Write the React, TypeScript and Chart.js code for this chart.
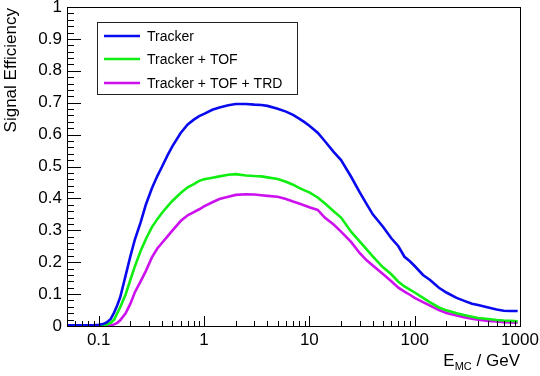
import React, { useEffect, useRef } from "react";
import { Chart, registerables } from "chart.js";

Chart.register(...registerables);

const energies = [
  0.05, 0.07, 0.09, 0.1, 0.11, 0.12, 0.13, 0.14, 0.15, 0.16,
  0.18, 0.2, 0.22, 0.25, 0.28, 0.32, 0.36, 0.4, 0.45, 0.5,
  0.6, 0.7, 0.8, 0.9, 1.0, 1.2, 1.4, 1.7, 2.0, 2.5,
  3.0, 3.5, 4, 5, 6, 7, 8, 9, 10, 12,
  14, 17, 20, 25, 30, 35, 40, 50, 60, 70,
  80, 90, 100, 120, 140, 170, 200, 250, 300, 350,
  400, 500, 600, 700, 800, 950,
];

const tracker = [
  0.002, 0.002, 0.003, 0.004, 0.006, 0.012, 0.022, 0.042, 0.065, 0.09,
  0.158, 0.219, 0.27, 0.325, 0.38, 0.432, 0.47, 0.5, 0.535, 0.563,
  0.605, 0.632, 0.647, 0.658, 0.665, 0.678, 0.685, 0.692, 0.696, 0.696,
  0.694, 0.693, 0.69, 0.681, 0.672, 0.662, 0.65, 0.639, 0.628, 0.606,
  0.58, 0.546, 0.52, 0.467, 0.42, 0.382, 0.35, 0.311, 0.275, 0.25,
  0.217, 0.203, 0.188, 0.16, 0.144, 0.12, 0.105, 0.088, 0.078, 0.07,
  0.066, 0.058, 0.052, 0.048, 0.047, 0.047,
];

const trackerTof = [
  0.001, 0.001, 0.002, 0.002, 0.003, 0.005, 0.01, 0.02, 0.04, 0.059,
  0.099, 0.145, 0.186, 0.235, 0.272, 0.31, 0.335, 0.355, 0.375, 0.392,
  0.417, 0.435, 0.445, 0.455, 0.46, 0.465, 0.469, 0.474, 0.476, 0.472,
  0.47, 0.469, 0.466, 0.461, 0.452, 0.443, 0.433, 0.425, 0.419, 0.403,
  0.385, 0.36, 0.34, 0.295, 0.265, 0.24, 0.218, 0.184, 0.162, 0.139,
  0.124, 0.114, 0.105, 0.088, 0.074, 0.058, 0.049, 0.04, 0.034, 0.029,
  0.025, 0.022, 0.019, 0.017, 0.016, 0.015,
];

const trackerTofTrd = [
  0, 0, 0, 0.001, 0.001, 0.001, 0.002, 0.005, 0.01, 0.018,
  0.04, 0.07, 0.105, 0.14, 0.172, 0.215, 0.243, 0.261, 0.281, 0.299,
  0.329, 0.347, 0.357, 0.366, 0.375, 0.388, 0.398, 0.405, 0.411, 0.413,
  0.412, 0.41, 0.408, 0.405, 0.398, 0.39, 0.384, 0.378, 0.372, 0.364,
  0.34, 0.318, 0.296, 0.263, 0.229, 0.206, 0.19, 0.163, 0.14, 0.12,
  0.108, 0.098, 0.088, 0.075, 0.064, 0.05, 0.041, 0.033, 0.027, 0.023,
  0.02, 0.016, 0.014, 0.012, 0.011, 0.01,
];

const seriesLabels = ["Tracker", "Tracker + TOF", "Tracker + TOF + TRD"];
const seriesColors = ["#0a0aee", "#11ee11", "#cc11ee"];
const xTickValues = [0.1, 1, 10, 100, 1000];
const yTickValues = [0, 0.1, 0.2, 0.3, 0.4, 0.5, 0.6, 0.7, 0.8, 0.9, 1];
const yTitle = "Signal Efficiency";
const xTitleMain = "E";
const xTitleSub = "MC";
const xTitleRest = " / GeV";

const FONT = "'Liberation Sans', Arial, Helvetica, sans-serif";

const rootStylePlugin = {
  id: "rootStyle",
  afterDraw(chart: any) {
    const ctx = chart.ctx;
    const { left, right, top, bottom } = chart.chartArea;
    const xs = chart.scales.x;
    const ys = chart.scales.y;
    ctx.save();
    ctx.strokeStyle = "#000";
    ctx.lineWidth = 1;
    // frame
    ctx.strokeRect(Math.round(left) + 0.5, Math.round(top) + 0.5, Math.round(right - left), Math.round(bottom - top));
    // y ticks
    ctx.beginPath();
    for (let i = 0; i <= 50; i++) {
      const v = i / 50;
      const py = Math.round(ys.getPixelForValue(v)) + 0.5;
      const len = i % 5 === 0 ? 14 : 7;
      ctx.moveTo(left, py);
      ctx.lineTo(left + len, py);
    }
    // x ticks
    for (let d = 0.01; d <= 1000; d *= 10) {
      for (let k = 1; k <= 9; k++) {
        const v = k * d;
        if (v < xs.min * 1.001 || v > xs.max * 0.999) continue;
        const px = Math.round(xs.getPixelForValue(v)) + 0.5;
        const len = k === 1 ? 10 : 5;
        ctx.moveTo(px, bottom);
        ctx.lineTo(px, bottom - len);
      }
    }
    ctx.stroke();

    // x title
    ctx.fillStyle = "#000";
    ctx.textBaseline = "alphabetic";
    ctx.font = `17px ${FONT}`;
    const wRest = ctx.measureText(xTitleRest).width;
    const wMain = ctx.measureText(xTitleMain).width;
    ctx.font = `11px ${FONT}`;
    const wSub = ctx.measureText(xTitleSub).width;
    const xEnd = 520;
    const base = 366;
    let x0 = xEnd - wRest - wSub - wMain;
    ctx.font = `17px ${FONT}`;
    ctx.textAlign = "left";
    ctx.fillText(xTitleMain, x0, base);
    ctx.font = `11px ${FONT}`;
    ctx.fillText(xTitleSub, x0 + wMain, base + 4);
    ctx.font = `17px ${FONT}`;
    ctx.fillText(xTitleRest, x0 + wMain + wSub, base);

    // y title
    ctx.save();
    ctx.translate(16, 8);
    ctx.rotate(-Math.PI / 2);
    ctx.textAlign = "right";
    ctx.textBaseline = "alphabetic";
    ctx.font = `17px ${FONT}`;
    ctx.fillText(yTitle, 0, 0);
    ctx.restore();

    // legend
    const bx = 97.5, by = 22.5, bw = 200, bh = 72;
    ctx.fillStyle = "#fff";
    ctx.fillRect(bx, by, bw, bh);
    ctx.strokeStyle = "#222";
    ctx.lineWidth = 1;
    ctx.strokeRect(bx, by, bw, bh);
    const rows = [36, 59, 83];
    chart.data.datasets.forEach((ds: any, i: number) => {
      ctx.strokeStyle = ds.borderColor;
      ctx.lineWidth = 2.5;
      ctx.beginPath();
      ctx.moveTo(104, rows[i]);
      ctx.lineTo(140, rows[i]);
      ctx.stroke();
      ctx.fillStyle = "#000";
      ctx.font = `14px ${FONT}`;
      ctx.textAlign = "left";
      ctx.textBaseline = "middle";
      ctx.fillText(ds.label, 147, rows[i] + 1);
    });
    ctx.restore();
  },
};

export default function App() {
  const canvasRef = useRef<HTMLCanvasElement | null>(null);

  useEffect(() => {
    if (!canvasRef.current) return;
    const seriesValues = [tracker, trackerTof, trackerTofTrd];
    const chart = new Chart(canvasRef.current, {
      type: "line",
      data: {
        datasets: seriesValues.map((vals, i) => ({
          label: seriesLabels[i],
          data: energies.map((e, j) => ({ x: e, y: vals[j] })),
          borderColor: seriesColors[i],
          backgroundColor: seriesColors[i],
          borderWidth: 2.6,
          pointRadius: 0,
          tension: 0,
          fill: false,
        })),
      },
      options: {
        responsive: false,
        animation: false,
        maintainAspectRatio: false,
        layout: { padding: { top: 7, right: 20, left: 0, bottom: 0 } },
        plugins: {
          legend: { display: false },
          tooltip: { enabled: false },
          title: { display: false },
        },
        scales: {
          x: {
            type: "logarithmic",
            min: 0.05,
            max: 1000,
            afterBuildTicks: (scale: any) => {
              scale.ticks = xTickValues.map((v) => ({ value: v }));
            },
            afterFit: (scale: any) => {
              scale.height = 50;
              scale.paddingLeft = 0;
              scale.paddingRight = 0;
            },
            ticks: {
              autoSkip: false,
              maxRotation: 0,
              minRotation: 0,
              padding: 4,
              color: "#000",
              font: { family: FONT, size: 17 },
              callback: (v: any) => String(v),
            },
            grid: { display: false, drawTicks: false, tickLength: 0 },
            border: { display: false },
          },
          y: {
            type: "linear",
            min: 0,
            max: 1,
            afterBuildTicks: (scale: any) => {
              scale.ticks = yTickValues.map((v) => ({ value: v }));
            },
            afterFit: (scale: any) => {
              scale.width = 67;
              scale.paddingTop = 0;
              scale.paddingBottom = 0;
            },
            ticks: {
              autoSkip: false,
              padding: 5,
              color: "#000",
              font: { family: FONT, size: 17 },
              callback: (v: any) => String(Math.round(Number(v) * 10) / 10),
            },
            grid: { display: false, drawTicks: false, tickLength: 0 },
            border: { display: false },
          },
        },
      },
      plugins: [rootStylePlugin],
    });
    return () => chart.destroy();
  }, []);

  return (
    <div style={{ position: "fixed", left: 0, top: 0, width: 540, height: 376, background: "#fff" }}>
      <canvas ref={canvasRef} width={540} height={376} style={{ display: "block", width: 540, height: 376 }} />
    </div>
  );
}
